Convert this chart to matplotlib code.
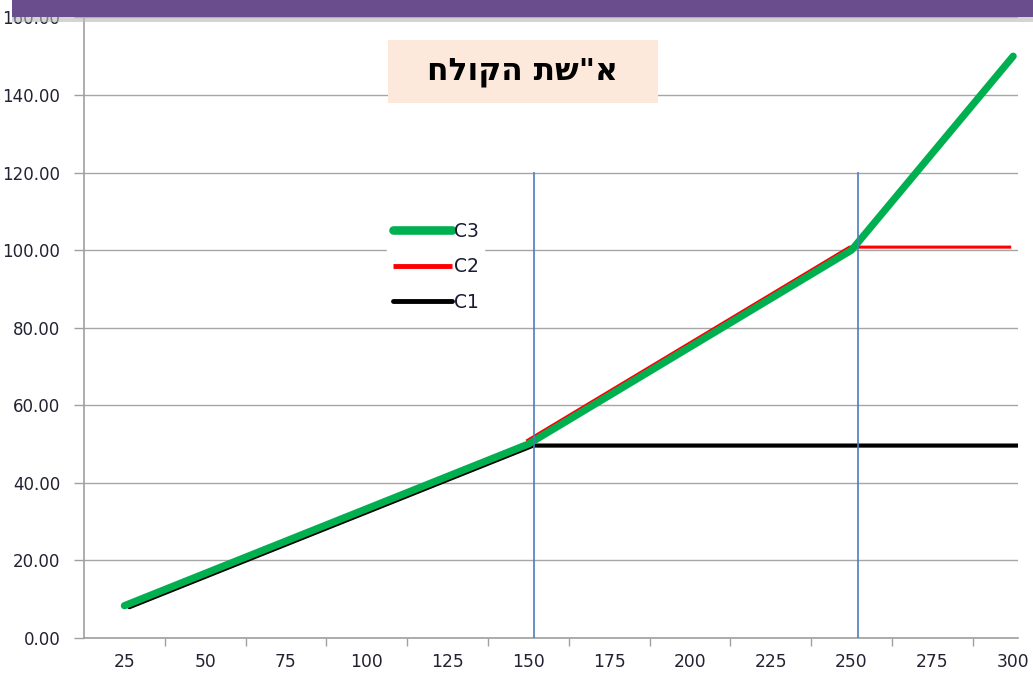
import matplotlib
matplotlib.use('Agg')
import matplotlib.pyplot as plt
import matplotlib.transforms as mtransforms
from matplotlib.patches import Rectangle
import numpy as np

# data
x_vals = [25, 50, 75, 100, 125, 150, 175, 200, 225, 250, 275, 300]
c1 = [8.33, 16.67, 25.0, 33.33, 41.67, 50.0, 50.0, 50.0, 50.0, 50.0, 50.0, 50.0]
# red only shows from 150 on (hidden under the others before that)
c2 = [np.nan, np.nan, np.nan, np.nan, np.nan, 50.0, 62.5, 75.0, 87.5, 100.0, 100.0, 100.0]
c3 = [8.33, 16.67, 25.0, 33.33, 41.67, 50.0, 62.5, 75.0, 87.5, 100.0, 125.0, 150.0]
split_x = [150, 250]
split_top = 120
y_ticks = [0, 20, 40, 60, 80, 100, 120, 140, 160]
title_txt = 'חלוקה תש"א'

W, H = 1033, 673
fig = plt.figure(figsize=(W / 100, H / 100), dpi=100)
ax = fig.add_axes([84 / W, 1 - 638 / H, (1018 - 84) / W, (638 - 17.4) / H])

# small pixel shifts so the overlapping lines peek out like in the original
red_tr = mtransforms.offset_copy(ax.transData, fig=fig, x=-2, y=3, units='dots')
blk_tr = mtransforms.offset_copy(ax.transData, fig=fig, x=5, y=-1.5, units='dots')
blue_tr = mtransforms.offset_copy(ax.transData, fig=fig, x=6, y=0, units='dots')

l1, = ax.plot(x_vals, c1, color='black', lw=3, solid_capstyle='round', transform=blk_tr, zorder=3, label='C1')
l2, = ax.plot(x_vals, c2, color='#ff0000', lw=2.2, solid_capstyle='butt', transform=red_tr, zorder=3, label='C2')
l3, = ax.plot(x_vals, c3, color='#00b050', lw=5.2, solid_capstyle='round', zorder=4, label='C3')

for sx in split_x:
    ax.plot([sx, sx], [0, split_top], color='#4a7ebb', lw=1.2, zorder=5, transform=blue_tr)

ax.set_xlim(12.5, 301.5)
ax.set_ylim(0, 160)

ax.set_xticks(x_vals)
ax.set_xticklabels([str(v) for v in x_vals])
ax.set_xticks([12.5 + 25 * k for k in range(1, 12)], minor=True)
ax.tick_params(axis='x', which='major', length=0, pad=11, labelsize=12.3, labelcolor='#222233')
ax.tick_params(axis='x', which='minor', length=6, width=1, color='#a0a0a0', direction='out')

ax.set_yticks(y_ticks)
ax.set_yticklabels(['%.2f' % v for v in y_ticks])
ax.tick_params(axis='y', length=7, width=1, color='#a0a0a0', pad=10, labelsize=12, labelcolor='#222233')

ax.yaxis.grid(True, color='#a6a6a6', lw=1)
ax.set_axisbelow(True)
for s in ['top', 'right']:
    ax.spines[s].set_visible(False)
for s in ['left', 'bottom']:
    ax.spines[s].set_color('#a0a0a0')
    ax.spines[s].set_linewidth(1.2)

leg = ax.legend(handles=[l3, l2, l1], loc='upper left', bbox_to_anchor=(387 / W, 1 - 216 / H),
                bbox_transform=fig.transFigure, frameon=True, fancybox=False, framealpha=1,
                edgecolor='white', facecolor='white', fontsize=13.5, handlelength=3.15,
                handletextpad=0.1, labelspacing=0.88, borderpad=0.3, borderaxespad=0)
for t in leg.get_texts():
    t.set_color('#1a1a33')
leg.legend_handles[0].set_linewidth(6.2)
leg.legend_handles[1].set_linewidth(3.5)
leg.legend_handles[2].set_linewidth(3.5)

# title box
fig.add_artist(Rectangle((388 / W, 1 - 103 / H), 270 / W, 63 / H, transform=fig.transFigure,
                         facecolor='#fce9db', edgecolor='none', zorder=6))
fig.text(522 / W, 1 - 72 / H, title_txt, ha='center', va='center', fontsize=22.5,
         fontweight='bold', color='black', family=['DejaVu Sans'], zorder=7)

# purple banner cut off at the top
fig.add_artist(Rectangle((12 / W, 1 - 22 / H), 1, 5 / H, transform=fig.transFigure,
                         facecolor='#b8b8b8', edgecolor='none', alpha=0.6, zorder=8))
fig.add_artist(Rectangle((12 / W, 1 - 17 / H), 1, 17 / H, transform=fig.transFigure,
                         facecolor='#6a4d8c', edgecolor='none', zorder=9))

fig.savefig('out.png', dpi=100)
